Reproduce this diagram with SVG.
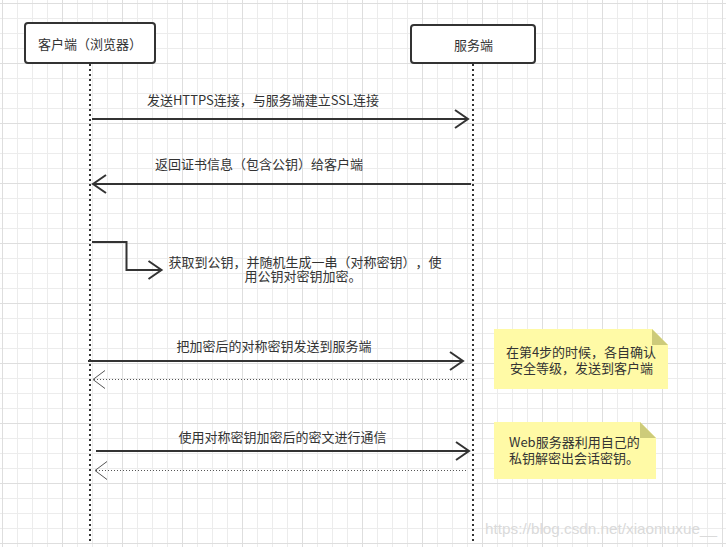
<svg xmlns="http://www.w3.org/2000/svg" width="726" height="547" viewBox="0 0 726 547">
  <defs>
    <pattern id="gridMinor" patternUnits="userSpaceOnUse" x="2" y="3" width="15" height="15">
      <path d="M0 0.5 H15 M0.5 0 V15" fill="none" stroke="#ececec" stroke-width="1"/>
    </pattern>
    <pattern id="gridMajor" patternUnits="userSpaceOnUse" x="2" y="3" width="60" height="60">
      <path d="M0 0.5 H60 M0.5 0 V60" fill="none" stroke="#dedede" stroke-width="1"/>
    </pattern>
    <marker id="openArrow" markerUnits="userSpaceOnUse" markerWidth="30" markerHeight="30" refX="0" refY="0" viewBox="-15 -15 30 30" orient="auto" overflow="visible">
      <path d="M-13,-9 L0,0 L-13,9" fill="none" stroke="#333333" stroke-width="2"/>
    </marker>
    <marker id="thinArrow" markerUnits="userSpaceOnUse" markerWidth="30" markerHeight="30" refX="0" refY="0" viewBox="-15 -15 30 30" orient="auto" overflow="visible">
      <path d="M-12,-9 L0,0 L-12,9" fill="none" stroke="#555555" stroke-width="1"/>
    </marker>
  </defs>
  <style>
    .txt { font-family: "Noto Sans CJK SC", "Noto Sans", "Liberation Sans", sans-serif; font-size: 13px; fill: #333333; text-spacing-trim: space-all; }
    .mid { text-anchor: middle; }
    .actor { fill: #ffffff; stroke: #333333; stroke-width: 2; }
    .life { fill: none; stroke: #333333; stroke-width: 2; stroke-dasharray: 2 3; }
    .msg { fill: none; stroke: #333333; stroke-width: 2; marker-end: url(#openArrow); }
    .ret { fill: none; stroke: #555555; stroke-width: 1; stroke-dasharray: 1 2; marker-end: url(#thinArrow); }
    .note { fill: #fffaa6; }
    .fold { fill: #cdcb7a; }
    .wm { font-family: "Liberation Sans", Arial, sans-serif; font-size: 15px; fill: #dadada; }
  </style>

  <rect x="0" y="0" width="726" height="547" fill="#ffffff"/>
  <rect x="0" y="0" width="726" height="547" fill="url(#gridMinor)"/>
  <rect x="0" y="0" width="726" height="547" fill="url(#gridMajor)"/>

  <g id="lifelines">
    <line class="life" x1="90" y1="64" x2="90" y2="541"/>
    <line class="life" x1="473" y1="64" x2="473" y2="541"/>
  </g>

  <g id="client">
    <rect class="actor" x="25" y="23" width="130" height="40" rx="3"/>
    <text class="txt mid" x="90" y="49">客户端（浏览器）</text>
  </g>

  <g id="server">
    <rect class="actor" x="411" y="25" width="124" height="38" rx="3"/>
    <text class="txt mid" x="473.5" y="50">服务端</text>
  </g>

  <g id="connectors">
    <line class="msg" x1="92" y1="119" x2="468" y2="119"/>
    <line class="msg" x1="471" y1="184" x2="93" y2="184"/>
    <polyline class="msg" points="92,242 126.5,242 126.5,270 161.5,270"/>
    <line class="msg" x1="88" y1="361" x2="463" y2="361"/>
    <line class="ret" x1="467" y1="379.5" x2="93" y2="379.5"/>
    <line class="msg" x1="96" y1="451" x2="469" y2="451"/>
    <line class="ret" x1="466" y1="470.5" x2="95" y2="470.5"/>
  </g>

  <g id="labels">
    <text class="txt mid" x="263" y="105">发送HTTPS连接，与服务端建立SSL连接</text>
    <text class="txt mid" x="259" y="169">返回证书信息（包含公钥）给客户端</text>
    <text class="txt mid" x="305" y="267">获取到公钥，并随机生成一串（对称密钥），使</text>
    <text class="txt mid" x="303" y="281">用公钥对密钥加密。</text>
    <text class="txt mid" x="274" y="351">把加密后的对称密钥发送到服务端</text>
    <text class="txt mid" x="282.5" y="442">使用对称密钥加密后的密文进行通信</text>
  </g>

  <g id="note1">
    <path class="note" d="M494,329 H652 L668,345 V389 H494 Z"/>
    <path class="fold" d="M652,329 L668,345 H652 Z"/>
    <text class="txt mid" x="581" y="357">在第4步的时候，各自确认</text>
    <text class="txt mid" x="581.5" y="373">安全等级，发送到客户端</text>
  </g>

  <g id="note2">
    <path class="note" d="M494,422 H640 L656,438 V479 H494 Z"/>
    <path class="fold" d="M640,422 L656,438 H640 Z"/>
    <text class="txt" x="509" y="447">Web服务器利用自己的</text>
    <text class="txt" x="509" y="463">私钥解密出会话密钥。</text>
  </g>

  <text class="wm" x="485" y="534" textLength="232" lengthAdjust="spacingAndGlyphs">https://blog.csdn.net/xiaomuxue__</text>
</svg>
